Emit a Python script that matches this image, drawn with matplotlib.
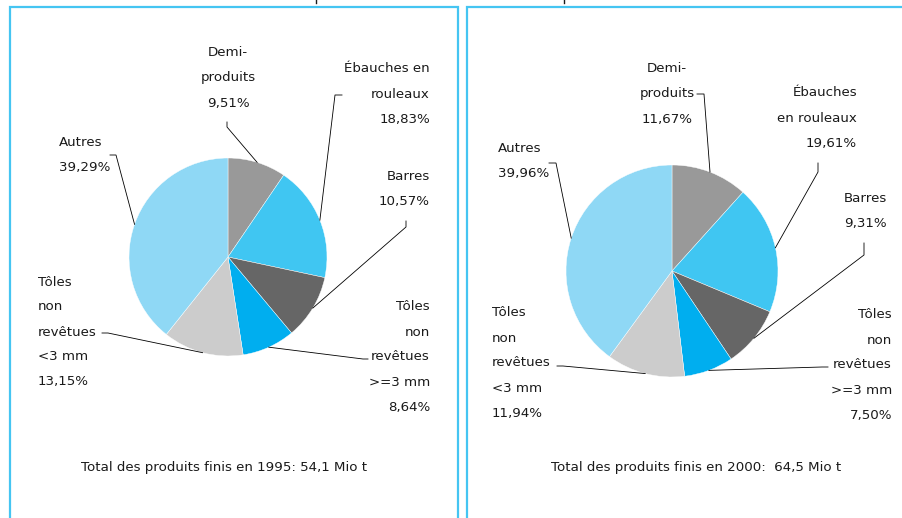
import numpy as np
import matplotlib.pyplot as plt

W, H = 903, 518

categories = ["Demi-produits", "Ébauches en rouleaux", "Barres",
              "Tôles non revêtues >=3 mm", "Tôles non revêtues <3 mm", "Autres"]
share_1995 = [9.51, 18.83, 10.57, 8.64, 13.15, 39.29]
share_2000 = [11.67, 19.61, 9.31, 7.50, 11.94, 39.96]
years = ["1995", "2000"]
totals = ["54,1", "64,5"]
footers = ["Total des produits finis en {year}: {total} Mio t",
           "Total des produits finis en {year}:  {total} Mio t"]

colors = ["#999999", "#40C6F2", "#666666", "#00AEEF", "#CCCCCC", "#8FD8F5"]
border_color = "#45C5F2"
text_color = "#1a1a1a"

# label layout per panel (pixel coords from top-left): lines, x, first line y, align, leader stub
layout_1995 = [
    (["Demi-", "produits"], 228, 53, "center", [(227, 122), (227, 127)]),
    (["Ébauches en", "rouleaux"], 430, 69, "right", [(342, 95), (335, 95)]),
    (["Barres"], 430, 177, "right", [(406, 221), (406, 227)]),
    (["Tôles", "non", "revêtues", ">=3 mm"], 430, 307, "right", [(368, 359), (363, 359)]),
    (["Tôles", "non", "revêtues", "<3 mm"], 38, 282, "left", [(102, 333), (108, 333)]),
    (["Autres"], 59, 142, "left", [(110, 155), (116, 155)]),
]
layout_2000 = [
    (["Demi-", "produits"], 667, 69, "center", [(697, 94), (704, 94)]),
    (["Ébauches", "en rouleaux"], 857, 93, "right", [(818, 163), (818, 172)]),
    (["Barres"], 887, 198, "right", [(864, 243), (864, 255)]),
    (["Tôles", "non", "revêtues", ">=3 mm"], 892, 315, "right", [(828, 367), (822, 367)]),
    (["Tôles", "non", "revêtues", "<3 mm"], 492, 313, "left", [(557, 366), (563, 366)]),
    (["Autres"], 498, 148, "left", [(549, 163), (556, 163)]),
]

panels = [
    dict(values=share_1995, year=years[0], total=totals[0], footer=footers[0],
         layout=layout_1995, center=(228, 257), radius=99, footer_x=224),
    dict(values=share_2000, year=years[1], total=totals[1], footer=footers[1],
         layout=layout_2000, center=(672, 271), radius=106, footer_x=696),
]

LINE_STEP = 25
FS = 9.6


def fy(y):
    # pixel-from-top -> data y
    return H - y


fig = plt.figure(figsize=(W / 100, H / 100), dpi=100)
ax = fig.add_axes([0, 0, 1, 1])

# panel borders
ax.plot([10, 10, 458, 458], [fy(H + 5), fy(7), fy(7), fy(H + 5)],
        color=border_color, lw=1.6, solid_joinstyle="miter")
ax.plot([467, 467, W + 5], [fy(H + 5), fy(7), fy(7)],
        color=border_color, lw=1.6, solid_joinstyle="miter")

# cut-off title remnants at the very top (descender strokes only)
for x in [316, 564]:
    ax.plot([x, x], [fy(-1), fy(2.5)], color=text_color, lw=1.0)

for p in panels:
    cx, cy = p["center"]
    r = p["radius"]
    wedges, _ = ax.pie(p["values"], colors=colors, startangle=90, counterclock=False,
                       center=(cx, fy(cy)), radius=r, frame=True,
                       wedgeprops=dict(edgecolor="white", linewidth=0.3))

    for w, v, (lines, x, y0, ha, stub) in zip(wedges, p["values"], p["layout"]):
        pct = f"{v:.2f}".replace(".", ",") + "%"
        for i, line in enumerate(lines + [pct]):
            ax.text(x, fy(y0 + i * LINE_STEP), line, ha=ha, va="center",
                    fontsize=FS, color=text_color)
        # leader: stub then to the wedge edge at its mid angle
        mid = np.deg2rad((w.theta1 + w.theta2) / 2)
        ex = cx + r * np.cos(mid)
        ey = fy(cy) + r * np.sin(mid)
        xs = [s[0] for s in stub] + [ex]
        ys = [fy(s[1]) for s in stub] + [ey]
        ax.plot(xs, ys, color="black", lw=0.6)

    ax.text(p["footer_x"], fy(467), p["footer"].format(year=p["year"], total=p["total"]),
            ha="center", va="center", fontsize=FS, color=text_color)

ax.set_xlim(0, W)
ax.set_ylim(0, H)
ax.set_aspect("equal", adjustable="box")
ax.axis("off")

fig.savefig("out.png", dpi=100)
plt.close(fig)
